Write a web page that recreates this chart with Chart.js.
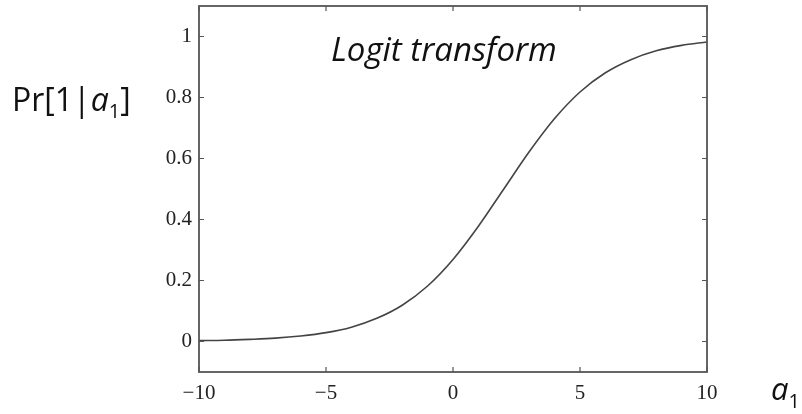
<!DOCTYPE html>
<html>
<head>
<meta charset="utf-8">
<script src="https://cdn.jsdelivr.net/npm/chart.js@4"></script>
<style>
  html, body { margin: 0; padding: 0; background: #fff; }
  #wrap { width: 802px; height: 414px; }
</style>
</head>
<body>
<div id="wrap"><canvas id="chart" width="802" height="414"></canvas></div>
<script>
// values
const xValues = [-10, -9, -8, -7, -6, -5, -4, -3, -2, -1, 0, 1, 2, 3, 4, 5, 6, 7, 8, 9, 10];
const prValues = [0.003, 0.004, 0.007, 0.011, 0.018, 0.029, 0.047, 0.076, 0.119, 0.182, 0.269,
                  0.378, 0.5, 0.622, 0.731, 0.818, 0.881, 0.924, 0.953, 0.971, 0.982];
const xTicks = [-10, -5, 0, 5, 10];
const yTicks = [0, 0.2, 0.4, 0.6, 0.8, 1];

const points = xValues.map((x, i) => ({ x: x, y: prValues[i] }));

// inward tick marks on all four sides, like the matlab frame
const frameTicks = {
    id: 'frameTicks',
    afterDraw(chart) {
        const { ctx, chartArea: a, scales } = chart;
        ctx.save();
        ctx.strokeStyle = '#555';
        ctx.lineWidth = 1.2;
        ctx.beginPath();
        xTicks.forEach(v => {
            const px = scales.x.getPixelForValue(v);
            ctx.moveTo(px, a.bottom); ctx.lineTo(px, a.bottom - 5);
            ctx.moveTo(px, a.top); ctx.lineTo(px, a.top + 5);
        });
        yTicks.forEach(v => {
            const py = scales.y.getPixelForValue(v);
            ctx.moveTo(a.left, py); ctx.lineTo(a.left + 5, py);
            ctx.moveTo(a.right, py); ctx.lineTo(a.right - 5, py);
        });
        ctx.stroke();
        ctx.lineWidth = 1.8;
        ctx.strokeRect(a.left, a.top, a.right - a.left, a.bottom - a.top);

        ctx.fillStyle = '#111';
        ctx.textBaseline = 'alphabetic';
        // title inside the plot
        ctx.font = 'italic 33px "Open Sans"';
        ctx.textAlign = 'left';
        ctx.fillText('Logit transform', 331, 61);

        // y label Pr[1|a1]
        ctx.font = '32px "Open Sans"';
        let x = 12;
        const base = 111;
        ctx.fillText('Pr[1|', x, base);
        x += ctx.measureText('Pr[1|').width;
        ctx.font = 'italic 32px "Open Sans"';
        ctx.fillText('a', x, base);
        x += ctx.measureText('a').width;
        ctx.font = '20px "Open Sans"';
        ctx.fillText('1', x, base + 7);
        x += ctx.measureText('1').width;
        ctx.font = '32px "Open Sans"';
        ctx.fillText(']', x, base);

        // x label a1
        ctx.font = 'italic 31px "Open Sans"';
        ctx.fillText('a', 771, 400);
        const w = ctx.measureText('a').width;
        ctx.font = '20px "Open Sans"';
        ctx.fillText('1', 771 + w, 408);
        ctx.restore();
    }
};

new Chart(document.getElementById('chart'), {
    type: 'scatter',
    data: {
        datasets: [{
            data: points,
            showLine: true,
            borderColor: '#444',
            borderWidth: 1.6,
            pointRadius: 0,
            cubicInterpolationMode: 'monotone'
        }]
    },
    options: {
        responsive: false,
        animation: false,
        layout: { padding: { left: 0, top: 6, right: 95, bottom: 0 } },
        plugins: { legend: { display: false }, tooltip: { enabled: false } },
        scales: {
            x: {
                type: 'linear',
                min: -10,
                max: 10,
                afterBuildTicks: s => { s.ticks = xTicks.map(v => ({ value: v })); },
                afterFit: s => { s.height = 42; s.paddingLeft = 0; s.paddingRight = 0; },
                grid: { display: false, drawTicks: false },
                border: { display: false },
                ticks: {
                    padding: 9,
                    color: '#222',
                    font: { family: '"Liberation Serif"', size: 21 },
                    callback: v => String(v).replace('-', '\u2212')
                }
            },
            y: {
                type: 'linear',
                min: -0.1,
                max: 1.1,
                afterBuildTicks: s => { s.ticks = yTicks.map(v => ({ value: v })); },
                afterFit: s => { s.width = 199; s.paddingTop = 0; s.paddingBottom = 0; },
                grid: { display: false, drawTicks: false },
                border: { display: false },
                ticks: {
                    padding: 7,
                    color: '#222',
                    font: { family: '"Liberation Serif"', size: 21 },
                    callback: v => String(v)
                }
            }
        }
    },
    plugins: [frameTicks]
});
</script>
</body>
</html>
